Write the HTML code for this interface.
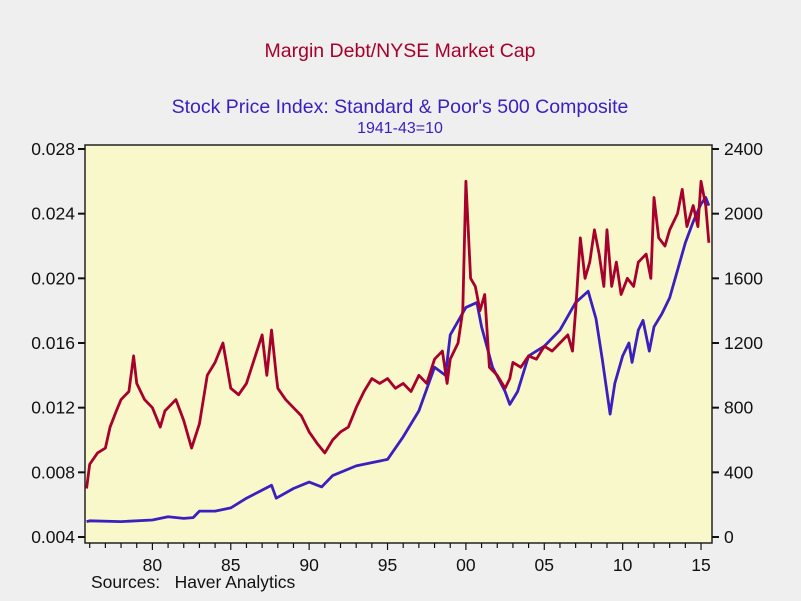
<!DOCTYPE html>
<html><head><meta charset="utf-8"><style>
body{margin:0;background:#efefef;}
svg{display:block;font-family:"Liberation Sans",sans-serif;}
</style></head><body>
<svg id="chart" width="801" height="601">
<rect x="0" y="0" width="801" height="601" fill="#efefef"/>
<text x="400" y="57" text-anchor="middle" font-size="19.5" fill="#a8002c">Margin Debt/NYSE Market Cap</text>
<text x="400" y="113" text-anchor="middle" font-size="19.5" fill="#3b1fbf">Stock Price Index: Standard &amp; Poor's 500 Composite</text>
<text x="400" y="133" text-anchor="middle" font-size="16" fill="#3b1fbf">1941-43=10</text>
<rect x="85" y="145" width="627" height="398" fill="#f9f8cb" stroke="#222" stroke-width="1.5"/>
<g id="axes"></g>
<g id="series"></g>
<text x="91" y="588" font-size="17.5" fill="#111" xml:space="preserve">Sources:   Haver Analytics</text>
</svg>
<script>
const leftTicks=[0.004,0.008,0.012,0.016,0.020,0.024,0.028];
const rightTicks=[0,400,800,1200,1600,2000,2400];
const xTickLabels=["80","85","90","95","00","05","10","15"];
const xTickYears=[1980,1985,1990,1995,2000,2005,2010,2015];
const marginYears=[1975.8,1976,1976.5,1977,1977.3,1977.7,1978,1978.5,1978.8,1979,1979.5,1980,1980.5,1980.8,1981,1981.5,1982,1982.5,1983,1983.5,1984,1984.5,1985,1985.5,1986,1986.5,1987,1987.3,1987.6,1987.9,1988,1988.5,1989,1989.5,1990,1990.5,1991,1991.5,1992,1992.5,1993,1993.5,1994,1994.5,1995,1995.5,1996,1996.5,1997,1997.5,1998,1998.5,1998.8,1999,1999.5,1999.8,2000,2000.3,2000.6,2000.9,2001.2,2001.5,2002,2002.5,2002.8,2003,2003.5,2004,2004.5,2005,2005.5,2006,2006.5,2006.8,2007,2007.3,2007.6,2007.9,2008.2,2008.5,2008.8,2009,2009.3,2009.6,2009.9,2010.3,2010.7,2011,2011.5,2011.8,2012,2012.3,2012.7,2013,2013.5,2013.8,2014.1,2014.5,2014.8,2015,2015.3,2015.5];
const marginValues=[0.0070,0.0085,0.0092,0.0095,0.0108,0.0118,0.0125,0.0130,0.0152,0.0135,0.0125,0.0120,0.0108,0.0118,0.0120,0.0125,0.0112,0.0095,0.0110,0.0140,0.0148,0.0160,0.0132,0.0128,0.0135,0.0150,0.0165,0.0140,0.0168,0.0140,0.0132,0.0125,0.0120,0.0115,0.0105,0.0098,0.0092,0.0100,0.0105,0.0108,0.0120,0.0130,0.0138,0.0135,0.0138,0.0132,0.0135,0.0130,0.0140,0.0135,0.0150,0.0155,0.0135,0.0150,0.0160,0.0180,0.0260,0.0200,0.0195,0.0180,0.0190,0.0145,0.0140,0.0132,0.0138,0.0148,0.0145,0.0152,0.0150,0.0158,0.0155,0.0160,0.0165,0.0155,0.0180,0.0225,0.0200,0.0210,0.0230,0.0215,0.0195,0.0230,0.0195,0.0210,0.0190,0.0200,0.0195,0.0210,0.0215,0.0200,0.0250,0.0225,0.0220,0.0230,0.0240,0.0255,0.0232,0.0245,0.0232,0.0260,0.0245,0.0222];
const spYears=[1975.8,1976,1978,1980,1981,1982,1982.6,1983,1984,1985,1986,1987,1987.6,1987.9,1989,1990,1990.8,1991.5,1993,1994,1995,1996,1997,1998,1998.7,1999,2000,2000.7,2001,2001.7,2002.5,2002.8,2003.3,2004,2005,2006,2007,2007.8,2008.3,2008.7,2009.2,2009.5,2010,2010.4,2010.6,2011,2011.3,2011.7,2012,2012.5,2013,2013.5,2014,2014.5,2015,2015.3,2015.5];
const spValues=[95,100,95,105,125,115,120,160,160,180,240,290,320,240,300,340,310,380,440,460,480,620,780,1050,1000,1250,1420,1450,1300,1050,900,820,900,1120,1180,1280,1450,1520,1350,1100,760,950,1120,1200,1080,1280,1340,1150,1300,1380,1480,1650,1820,1950,2060,2100,2050];
const NS="http://www.w3.org/2000/svg";
const X0=85,X1=712,Y0=537,Y1=149,YR0=1975.7,YR1=2015.7;
const xs=y=>X0+(y-YR0)/(YR1-YR0)*(X1-X0);
const yl=v=>Y0-(v-0.004)/(0.028-0.004)*(Y0-Y1);
const yr=v=>Y0-v/2400*(Y0-Y1);
function mk(tag,attrs,parent){const e=document.createElementNS(NS,tag);for(const k in attrs)e.setAttribute(k,attrs[k]);parent.appendChild(e);return e;}
const axes=document.getElementById('axes');
leftTicks.forEach(v=>{
  const y=yl(v);
  const t=mk('line',{x1:78,x2:85,y1:y,y2:y,stroke:'#111','stroke-width':2},axes);
  
  
  const l=mk('text',{x:75,y:y+6,'text-anchor':'end','font-size':17.5,fill:'#111'},axes);
  l.textContent=v.toFixed(3);
  
  
});
rightTicks.forEach(v=>{
  const y=yr(v);
  const t=mk('line',{x1:712,x2:719,y1:y,y2:y,stroke:'#111','stroke-width':2},axes);
  
  
  const l=mk('text',{x:724,y:y+6,'font-size':17.5,fill:'#111'},axes);
  l.textContent=v;
  
  
});
for(let yr_=1976;yr_<=2015;yr_++){
  const x=xs(yr_);
  const t=mk('line',{x1:x,x2:x,y1:543,y2:yr_%5===0?550:548,stroke:'#111','stroke-width':1.2},axes);
  
  
}
xTickYears.forEach((yv,i)=>{
  const l=mk('text',{x:xs(yv),y:571,'text-anchor':'middle','font-size':17.5,fill:'#111'},axes);
  l.textContent=xTickLabels[i];
  
  
});
const ser=document.getElementById('series');
const sp=mk('polyline',{points:spYears.map((y,i)=>xs(y)+','+yr(spValues[i])).join(' '),fill:'none',stroke:'#3b1fbf','stroke-width':2.8,'stroke-linejoin':'round'},ser);


const md=mk('polyline',{points:marginYears.map((y,i)=>xs(y)+','+yl(marginValues[i])).join(' '),fill:'none',stroke:'#a8002c','stroke-width':2.8,'stroke-linejoin':'round'},ser);


</script>
</body></html>
